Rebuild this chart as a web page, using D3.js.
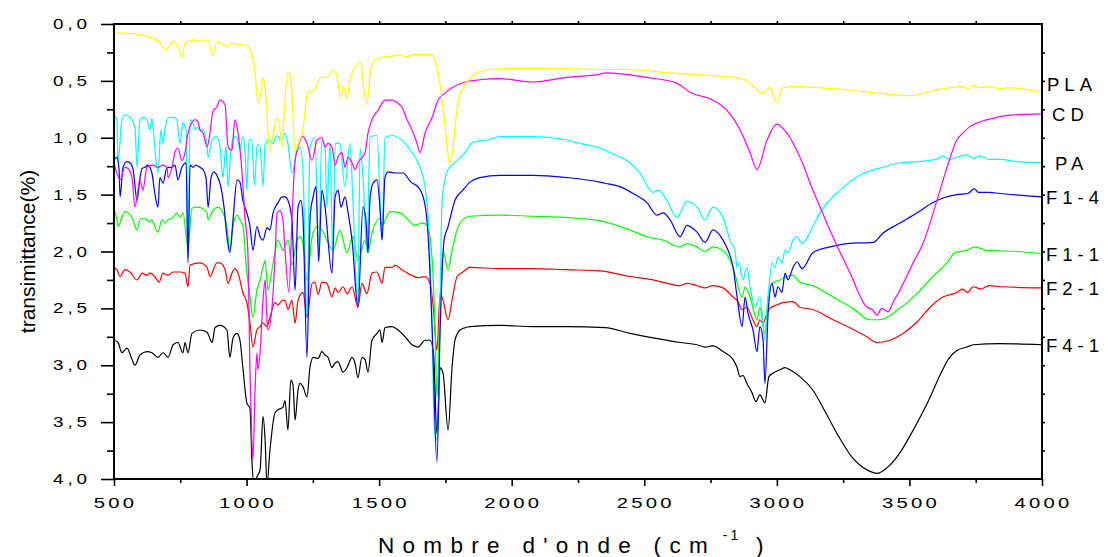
<!DOCTYPE html>
<html>
<head>
<meta charset="utf-8">
<script src="https://cdn.jsdelivr.net/npm/d3@7/dist/d3.min.js"></script>
<style>
  html, body { margin: 0; padding: 0; background: #fff; }
  svg { display: block; font-family: Arial, "Liberation Sans", sans-serif; }
</style>
</head>
<body>
<svg id="chart" width="1108" height="557"></svg>
<script>
// ---- data: [wavenumber cm-1, transmittance value] ----
const xTicks = [500, 1000, 1500, 2000, 2500, 3000, 3500, 4000];
const yTicks = [0, 0.5, 1, 1.5, 2, 2.5, 3, 3.5, 4];
const seriesNames = ["PLA", "CD", "PA", "F1-4", "F1-1", "F2-1", "F4-1"];

const pla = [[500,0.08],[540,0.08],[610,0.10],[673,0.16],[692,0.22],[705,0.21],[723,0.15],[742,0.20],[757,0.29],[768,0.17],[798,0.14],[836,0.15],[855,0.14],[873,0.28],[888,0.16],[907,0.17],[926,0.20],[945,0.17],[975,0.18],[1001,0.19],[1020,0.26],[1032,0.43],[1043,0.70],[1055,0.58],[1062,0.47],[1072,0.62],[1088,1.11],[1100,0.98],[1114,0.83],[1122,0.85],[1134,1.08],[1145,0.67],[1156,0.42],[1167,0.47],[1183,1.12],[1200,1.02],[1211,0.96],[1230,0.61],[1256,0.58],[1280,0.47],[1302,0.47],[1328,0.40],[1340,0.45],[1355,0.64],[1366,0.55],[1378,0.65],[1392,0.47],[1430,0.34],[1441,0.55],[1454,0.71],[1468,0.40],[1487,0.31],[1517,0.29],[1560,0.28],[1580,0.27],[1600,0.29],[1630,0.27],[1660,0.27],[1697,0.27],[1712,0.33],[1731,0.55],[1750,0.93],[1760,1.15],[1768,1.22],[1780,1.06],[1790,0.82],[1800,0.67],[1820,0.55],[1845,0.47],[1880,0.42],[1920,0.40],[2020,0.39],[2144,0.39],[2333,0.40],[2433,0.40],[2590,0.43],[2840,0.47],[2880,0.49],[2910,0.54],[2944,0.61],[2974,0.56],[3000,0.69],[3023,0.56],[3076,0.55],[3265,0.58],[3389,0.61],[3510,0.63],[3566,0.60],[3653,0.56],[3700,0.55],[3720,0.57],[3740,0.54],[3770,0.56],[3800,0.55],[3842,0.57],[3870,0.56],[4000,0.60]];

const cd = [[500,1.22],[523,1.37],[541,1.26],[553,1.27],[568,1.35],[579,1.61],[598,1.37],[609,1.46],[624,1.26],[647,1.24],[666,1.26],[685,1.24],[700,1.26],[704,1.35],[719,1.26],[730,1.13],[741,1.09],[756,1.20],[768,1.13],[779,0.96],[806,0.84],[817,0.86],[824,0.93],[836,0.96],[851,1.08],[862,0.96],[873,0.77],[888,0.73],[900,0.67],[919,0.71],[930,1.08],[945,1.11],[956,0.84],[968,0.96],[983,1.31],[994,1.70],[1005,2.01],[1013,3.07],[1020,3.66],[1024,3.83],[1032,3.22],[1039,2.89],[1043,3.04],[1051,2.89],[1062,2.43],[1070,2.25],[1077,2.60],[1081,2.69],[1096,2.49],[1107,2.07],[1115,1.66],[1126,1.64],[1137,1.72],[1145,1.99],[1160,2.36],[1171,1.72],[1183,1.20],[1194,1.08],[1213,0.99],[1228,1.05],[1247,1.20],[1266,1.02],[1284,1.00],[1296,1.08],[1307,1.05],[1322,1.08],[1334,1.24],[1345,1.17],[1360,1.13],[1371,1.26],[1383,1.17],[1398,1.22],[1409,1.28],[1420,1.22],[1447,1.13],[1458,0.96],[1477,0.82],[1496,0.76],[1522,0.67],[1549,0.67],[1567,0.69],[1586,0.73],[1605,0.84],[1624,0.93],[1643,1.05],[1654,1.13],[1673,0.96],[1700,0.82],[1722,0.67],[1748,0.61],[1775,0.56],[1824,0.51],[1880,0.49],[1956,0.48],[2080,0.51],[2208,0.47],[2333,0.44],[2352,0.43],[2510,0.47],[2623,0.52],[2672,0.60],[2759,0.67],[2812,0.76],[2861,0.93],[2899,1.13],[2925,1.28],[2963,1.02],[3000,0.88],[3038,0.96],[3087,1.17],[3136,1.46],[3200,1.81],[3276,2.19],[3340,2.49],[3360,2.51],[3378,2.56],[3395,2.50],[3419,2.53],[3440,2.44],[3464,2.34],[3514,2.10],[3551,1.93],[3604,1.55],[3642,1.26],[3679,1.02],[3702,0.96],[3730,0.90],[3755,0.87],[3780,0.85],[3815,0.83],[3850,0.81],[3891,0.80],[4000,0.79]];

const pa = [[500,0.80],[511,0.84],[515,1.22],[530,0.84],[541,0.80],[560,0.82],[579,0.91],[587,1.26],[598,0.84],[609,0.82],[624,0.84],[636,0.93],[643,0.83],[647,0.91],[666,1.31],[677,0.93],[685,1.05],[692,0.93],[704,0.82],[723,0.82],[737,0.84],[749,1.05],[760,0.87],[772,0.93],[779,2.05],[787,0.84],[798,0.87],[806,0.93],[813,0.91],[824,0.93],[836,0.93],[851,1.08],[855,1.17],[870,1.02],[888,0.99],[900,1.08],[911,1.35],[922,1.08],[930,1.43],[941,1.11],[952,0.99],[964,1.00],[975,1.11],[986,0.99],[994,1.11],[1001,1.46],[1009,1.02],[1020,1.02],[1030,1.42],[1040,1.06],[1051,1.08],[1062,1.43],[1070,1.06],[1085,1.02],[1100,1.05],[1115,0.98],[1130,1.02],[1145,0.96],[1156,1.05],[1171,1.31],[1190,1.13],[1202,1.08],[1213,1.31],[1228,2.58],[1239,1.08],[1258,1.00],[1272,1.99],[1284,1.02],[1296,1.08],[1303,1.61],[1315,1.05],[1324,1.99],[1335,1.05],[1352,1.05],[1371,1.43],[1390,1.05],[1401,1.55],[1420,2.49],[1428,1.09],[1439,1.35],[1454,1.99],[1466,0.99],[1492,0.98],[1511,1.90],[1522,1.00],[1549,0.98],[1586,1.02],[1624,1.13],[1647,1.22],[1673,1.43],[1685,1.72],[1700,2.69],[1707,3.48],[1715,3.66],[1722,3.57],[1730,2.43],[1737,1.57],[1748,1.37],[1760,1.28],[1786,1.22],[1824,1.13],[1854,1.04],[1907,1.02],[1956,0.99],[2080,0.99],[2208,1.02],[2258,1.05],[2333,1.09],[2352,1.11],[2408,1.17],[2446,1.22],[2484,1.31],[2533,1.48],[2552,1.46],[2586,1.55],[2623,1.70],[2661,1.56],[2699,1.61],[2729,1.72],[2759,1.61],[2797,1.70],[2823,1.90],[2842,1.99],[2850,2.14],[2857,2.10],[2872,2.25],[2887,2.14],[2899,2.31],[2918,2.49],[2936,2.40],[2955,2.78],[2967,2.40],[2982,2.10],[2993,2.14],[3004,2.05],[3019,2.10],[3031,1.99],[3042,2.01],[3061,1.90],[3076,1.87],[3095,1.93],[3136,1.78],[3163,1.66],[3238,1.46],[3314,1.33],[3340,1.30],[3400,1.26],[3464,1.22],[3529,1.21],[3600,1.19],[3627,1.16],[3650,1.19],[3680,1.17],[3717,1.15],[3740,1.18],[3770,1.16],[3800,1.19],[3842,1.19],[3906,1.21],[4000,1.22]];

const f14 = [[500,1.20],[511,1.17],[519,1.28],[523,1.52],[534,1.26],[549,1.21],[560,1.22],[572,1.28],[587,1.55],[598,1.35],[606,1.27],[617,1.26],[628,1.24],[643,1.31],[654,1.49],[666,1.61],[673,1.35],[685,1.40],[700,1.26],[719,1.26],[730,1.24],[741,1.37],[756,1.26],[772,1.22],[779,2.10],[787,1.24],[798,1.26],[809,1.24],[824,1.26],[836,1.28],[847,1.35],[855,1.61],[866,1.35],[877,1.30],[888,1.33],[903,1.43],[915,1.61],[926,1.87],[937,2.01],[949,1.72],[964,1.37],[975,1.39],[986,1.55],[1001,1.66],[1013,1.78],[1024,1.99],[1039,1.78],[1051,1.87],[1062,1.90],[1077,1.79],[1088,1.81],[1100,1.66],[1119,1.57],[1134,1.52],[1145,1.52],[1156,1.55],[1171,1.72],[1183,2.34],[1194,1.61],[1205,1.55],[1213,1.72],[1228,2.93],[1240,1.68],[1251,1.52],[1262,1.43],[1272,2.09],[1284,1.46],[1296,1.61],[1322,2.19],[1334,1.52],[1345,1.46],[1356,1.61],[1371,1.52],[1383,1.66],[1398,1.90],[1420,2.49],[1439,1.61],[1450,1.72],[1458,2.01],[1466,1.52],[1477,1.40],[1492,1.37],[1503,1.61],[1511,1.90],[1522,1.35],[1533,1.30],[1560,1.31],[1590,1.31],[1620,1.39],[1650,1.44],[1673,1.59],[1685,1.87],[1700,2.69],[1718,3.85],[1730,2.69],[1745,1.90],[1760,1.78],[1786,1.55],[1816,1.46],[1843,1.39],[1880,1.35],[1956,1.33],[2080,1.33],[2208,1.35],[2333,1.39],[2352,1.40],[2408,1.43],[2458,1.49],[2510,1.57],[2548,1.68],[2571,1.66],[2597,1.72],[2635,1.87],[2661,1.77],[2699,1.83],[2729,1.92],[2759,1.81],[2797,1.90],[2816,1.99],[2835,2.14],[2850,2.40],[2869,2.66],[2880,2.40],[2891,2.54],[2910,2.69],[2925,2.88],[2936,2.66],[2948,2.78],[2955,3.16],[2967,2.54],[2982,2.28],[2993,2.40],[3004,2.31],[3019,2.36],[3031,2.19],[3042,2.25],[3061,2.14],[3076,2.09],[3095,2.15],[3136,2.01],[3200,1.96],[3265,1.93],[3363,1.92],[3400,1.84],[3464,1.75],[3529,1.66],[3589,1.57],[3627,1.53],[3679,1.50],[3720,1.49],[3745,1.45],[3760,1.48],[3800,1.48],[3842,1.49],[4000,1.52]];

const f11 = [[500,1.63],[511,1.72],[515,1.78],[530,1.70],[541,1.65],[553,1.66],[568,1.70],[587,1.81],[598,1.72],[609,1.71],[624,1.72],[636,1.74],[643,1.72],[647,1.74],[666,1.83],[681,1.72],[692,1.75],[704,1.72],[719,1.71],[738,1.66],[749,1.70],[760,1.66],[779,1.96],[794,1.62],[813,1.61],[832,1.62],[851,1.66],[855,1.72],[873,1.64],[892,1.61],[911,1.66],[926,1.78],[937,1.99],[949,1.77],[964,1.68],[975,1.72],[986,1.77],[1001,2.19],[1013,2.40],[1024,2.58],[1039,2.34],[1051,2.25],[1062,2.14],[1070,2.08],[1077,2.25],[1081,2.34],[1096,2.16],[1107,2.01],[1119,1.90],[1137,1.99],[1156,1.90],[1171,2.12],[1190,1.90],[1202,1.87],[1213,1.94],[1228,2.25],[1247,1.87],[1266,1.78],[1284,1.81],[1303,1.90],[1326,1.99],[1352,1.81],[1379,2.01],[1401,1.87],[1420,2.08],[1447,1.90],[1458,2.01],[1473,1.84],[1503,1.71],[1511,1.77],[1541,1.65],[1579,1.66],[1605,1.71],[1635,1.77],[1662,1.75],[1681,1.77],[1700,2.07],[1711,2.69],[1718,3.28],[1730,2.43],[1741,1.99],[1760,2.16],[1775,1.99],[1794,1.81],[1816,1.72],[1843,1.69],[1956,1.68],[2080,1.69],[2208,1.70],[2258,1.71],[2333,1.73],[2446,1.81],[2510,1.87],[2571,1.90],[2635,1.96],[2661,1.93],[2699,1.96],[2729,2.00],[2759,1.96],[2797,1.99],[2835,2.14],[2869,2.40],[2880,2.31],[2899,2.40],[2925,2.60],[2936,2.49],[2955,2.72],[2967,2.40],[2982,2.28],[3012,2.25],[3038,2.22],[3061,2.21],[3087,2.27],[3136,2.30],[3212,2.40],[3287,2.50],[3351,2.60],[3389,2.60],[3464,2.50],[3529,2.37],[3589,2.22],[3642,2.10],[3672,2.01],[3717,1.99],[3747,1.96],[3793,1.99],[3906,2.00],[4000,2.02]];

const f21 = [[500,2.14],[511,2.16],[523,2.22],[541,2.16],[560,2.18],[587,2.25],[606,2.19],[624,2.21],[636,2.19],[654,2.22],[670,2.27],[685,2.19],[704,2.21],[723,2.18],[749,2.18],[768,2.19],[779,2.31],[787,2.12],[824,2.10],[851,2.14],[862,2.22],[888,2.10],[900,2.10],[919,2.16],[930,2.28],[945,2.19],[956,2.15],[968,2.19],[986,2.36],[1001,2.45],[1013,2.63],[1024,2.84],[1039,2.69],[1051,2.66],[1062,2.63],[1077,2.66],[1088,2.58],[1107,2.45],[1119,2.47],[1134,2.43],[1145,2.43],[1156,2.51],[1171,2.43],[1183,2.63],[1194,2.43],[1213,2.36],[1228,2.58],[1247,2.28],[1258,2.27],[1270,2.38],[1284,2.27],[1303,2.28],[1322,2.40],[1334,2.32],[1345,2.36],[1364,2.31],[1379,2.37],[1398,2.31],[1420,2.49],[1435,2.28],[1454,2.37],[1473,2.19],[1492,2.18],[1511,2.28],[1522,2.14],[1549,2.14],[1560,2.12],[1586,2.16],[1624,2.21],[1647,2.23],[1673,2.22],[1692,2.28],[1705,2.51],[1718,2.87],[1730,2.37],[1741,2.43],[1760,2.60],[1775,2.43],[1794,2.22],[1816,2.18],[1843,2.14],[1956,2.15],[2080,2.15],[2208,2.16],[2333,2.17],[2446,2.22],[2533,2.25],[2586,2.28],[2635,2.30],[2661,2.28],[2699,2.30],[2729,2.32],[2759,2.30],[2797,2.32],[2835,2.40],[2853,2.44],[2869,2.51],[2887,2.49],[2906,2.58],[2925,2.66],[2936,2.60],[2948,2.63],[2963,2.54],[2974,2.50],[3000,2.47],[3023,2.45],[3061,2.44],[3087,2.49],[3136,2.51],[3212,2.60],[3276,2.67],[3340,2.75],[3378,2.80],[3427,2.78],[3476,2.72],[3529,2.62],[3578,2.49],[3627,2.40],[3679,2.36],[3700,2.33],[3720,2.36],[3740,2.31],[3770,2.33],[3800,2.30],[3842,2.31],[4000,2.32]];

const f41 = [[500,2.78],[515,2.80],[530,2.89],[549,2.85],[568,2.95],[579,3.00],[598,2.91],[624,2.88],[643,2.89],[666,2.93],[685,2.89],[704,2.93],[723,2.82],[741,2.80],[760,2.89],[768,2.80],[779,2.89],[794,2.72],[824,2.69],[851,2.71],[870,2.80],[881,2.67],[900,2.65],[926,2.69],[937,2.93],[949,2.76],[964,2.72],[975,2.78],[986,3.02],[1001,3.33],[1013,3.38],[1020,3.83],[1028,4.05],[1039,3.98],[1051,3.92],[1062,3.45],[1070,3.66],[1077,4.05],[1088,3.75],[1107,3.42],[1119,3.39],[1137,3.37],[1145,3.31],[1156,3.57],[1167,3.13],[1175,3.17],[1183,3.48],[1194,3.22],[1202,3.16],[1213,3.19],[1228,3.28],[1239,3.02],[1251,2.93],[1270,2.94],[1284,2.88],[1296,2.91],[1307,2.93],[1322,3.02],[1334,2.98],[1345,2.97],[1364,3.06],[1379,3.02],[1398,2.93],[1409,2.98],[1420,3.11],[1435,2.93],[1447,2.95],[1458,3.06],[1473,2.78],[1492,2.72],[1503,2.69],[1511,2.80],[1522,2.67],[1549,2.66],[1571,2.69],[1598,2.75],[1624,2.82],[1647,2.84],[1673,2.78],[1692,2.78],[1705,2.89],[1718,3.60],[1730,3.02],[1741,3.07],[1760,3.57],[1775,3.02],[1786,2.78],[1805,2.69],[1824,2.67],[1843,2.66],[1956,2.65],[2080,2.66],[2208,2.66],[2352,2.67],[2446,2.72],[2533,2.76],[2635,2.80],[2699,2.82],[2729,2.84],[2759,2.83],[2797,2.88],[2835,2.95],[2850,3.02],[2861,3.10],[2872,3.09],[2887,3.16],[2906,3.24],[2921,3.32],[2936,3.26],[2955,3.33],[2970,3.10],[2985,3.07],[3012,3.04],[3031,3.02],[3049,3.04],[3087,3.10],[3136,3.22],[3185,3.42],[3234,3.63],[3284,3.81],[3340,3.92],[3378,3.95],[3416,3.90],[3464,3.77],[3514,3.57],[3570,3.32],[3619,3.07],[3649,2.94],[3679,2.87],[3717,2.84],[3740,2.82],[3842,2.81],[4000,2.82]];

const seriesData = [pla, cd, pa, f14, f11, f21, f41];
const seriesColors = ["#ffff00", "#ff00ff", "#00ffff", "#0000ff", "#00ff00", "#ff0000", "#000000"];
// drawing order, back to front
const drawOrder = ["F4-1", "F2-1", "F1-1", "PA", "F1-4", "CD", "PLA"];

// ---- layout ----
const W = 1108, H = 557;
const margin = { top: 24, right: 66, bottom: 78, left: 114 };
const iw = W - margin.left - margin.right;
const ih = H - margin.top - margin.bottom;

const svg = d3.select("#chart");
const x = d3.scaleLinear().domain([500, 4000]).range([margin.left, margin.left + iw]);
const y = d3.scaleLinear().domain([0, 4]).range([margin.top, margin.top + ih]);

svg.append("clipPath").attr("id", "plotclip")
  .append("rect")
  .attr("x", margin.left).attr("y", margin.top)
  .attr("width", iw).attr("height", ih);

// ---- spectra ----
const line = d3.line()
  .x(d => x(d[0]))
  .y(d => y(d[1]))
  .curve(d3.curveMonotoneX);

const lines = svg.append("g").attr("clip-path", "url(#plotclip)");
drawOrder.forEach(name => {
  const i = seriesNames.indexOf(name);
  lines.append("path")
    .datum(seriesData[i])
    .attr("fill", "none")
    .attr("stroke", seriesColors[i])
    .attr("stroke-width", 1.2)
    .attr("stroke-linejoin", "round")
    .attr("d", line);
});

// ---- axes ----
const fmtY = v => d3.format(".1f")(v).replace(".", ",");
const minorX = d3.range(750, 4000, 500);
const minorY = d3.range(0.25, 4, 0.5);

const axisBottom = svg.append("g")
  .attr("transform", `translate(0,${margin.top + ih})`)
  .call(d3.axisBottom(x).tickValues(xTicks).tickSize(7).tickFormat(""));
const axisBottomMinor = svg.append("g")
  .attr("transform", `translate(0,${margin.top + ih})`)
  .call(d3.axisBottom(x).tickValues(minorX).tickSize(4).tickFormat(""));
const axisLeft = svg.append("g")
  .attr("transform", `translate(${margin.left},0)`)
  .call(d3.axisLeft(y).tickValues(yTicks).tickSize(13).tickFormat(""));
const axisLeftMinor = svg.append("g")
  .attr("transform", `translate(${margin.left},0)`)
  .call(d3.axisLeft(y).tickValues(minorY).tickSize(7).tickFormat(""));
const axisTop = svg.append("g")
  .attr("transform", `translate(0,${margin.top})`)
  .call(d3.axisTop(x).tickValues(d3.range(750, 4000, 250)).tickSize(3).tickFormat(""));
const axisRight = svg.append("g")
  .attr("transform", `translate(${margin.left + iw},0)`)
  .call(d3.axisRight(y).tickValues(d3.range(0.25, 4, 0.25)).tickSize(3).tickFormat(""));

[axisBottom, axisBottomMinor, axisLeft, axisLeftMinor, axisTop, axisRight].forEach(g => {
  g.select(".domain").remove();
  g.selectAll("line").attr("stroke", "#000").attr("stroke-width", 1.6);
});

svg.append("rect")
  .attr("x", margin.left).attr("y", margin.top)
  .attr("width", iw).attr("height", ih)
  .attr("fill", "none").attr("stroke", "#000").attr("stroke-width", 2);

// tick labels (the original font is wide, so stretch it horizontally)
svg.append("g").selectAll("text")
  .data(xTicks).join("text")
  .attr("transform", d => `translate(${x(d) + 1.5},508) scale(1.35,1)`)
  .attr("text-anchor", "middle")
  .attr("font-size", 15)
  .attr("letter-spacing", 2.4)
  .attr("fill", "#000")
  .text(d => d);

svg.append("g").selectAll("text")
  .data(yTicks).join("text")
  .attr("transform", d => `translate(91,${y(d) + 5}) scale(1.3,1)`)
  .attr("text-anchor", "end")
  .attr("font-size", 14.5)
  .attr("letter-spacing", 3)
  .attr("fill", "#000")
  .text(fmtY);

// axis titles
svg.append("text")
  .attr("transform", `translate(35,${margin.top + ih / 2}) rotate(-90)`)
  .attr("text-anchor", "middle")
  .attr("font-size", 21)
  .attr("fill", "#000")
  .text("transimittance(%)");

const xt = svg.append("text")
  .attr("x", 378).attr("y", 553)
  .attr("font-size", 22.5)
  .attr("letter-spacing", 8.3)
  .attr("fill", "#000");
xt.append("tspan").text("Nombre d'onde (cm");
xt.append("tspan").attr("font-size", 14).attr("dy", -13).attr("letter-spacing", 3).text(" -1");
xt.append("tspan").attr("dy", 13).text(" )");

// series labels at the right edge
const labelShift = { "PLA": -8 };
const labelX = { "PLA": 1047, "CD": 1052, "PA": 1055 };
const labelSel = svg.append("g").selectAll("text")
  .data(seriesNames).join("text")
  .attr("x", d => labelX[d] || 1046)
  .attr("y", (d, i) => {
    const last = seriesData[i][seriesData[i].length - 1];
    return y(last[1]) + 7 + (labelShift[d] || 0);
  })
  .attr("text-anchor", "start")
  .attr("font-size", 18.5)
  .attr("fill", "#000");
// spaced letters as separate tspans, so no trailing spacing runs past the edge
labelSel.each(function (d) {
  const t = d3.select(this);
  d.split("").forEach((ch, k) => {
    t.append("tspan").attr("dx", k === 0 ? 0 : 5).text(ch);
  });
});
</script>
</body>
</html>
